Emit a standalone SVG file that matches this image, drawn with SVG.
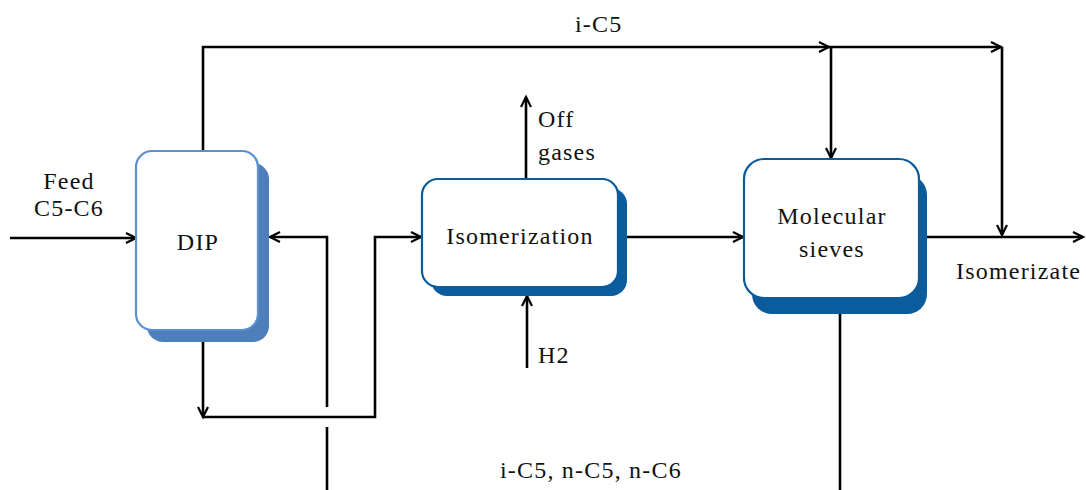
<svg xmlns="http://www.w3.org/2000/svg" width="1086" height="490" viewBox="0 0 1086 490">
  <style>
    .lbl { font-family: "Liberation Serif", "Times New Roman", serif; font-size: 24px; letter-spacing: 1.2px; fill: #111; }
    .mid { text-anchor: middle; }
    .flow { fill: none; stroke: #000; stroke-width: 2.6; stroke-linejoin: miter; }
    .arr { marker-end: url(#chev); }
    .front { fill: #fff; stroke-width: 2.2; }
  </style>
  <defs>
    <marker id="chev" markerUnits="userSpaceOnUse" markerWidth="14" markerHeight="14" refX="11" refY="6" orient="auto" viewBox="0 0 14 12">
      <path d="M1,1 L11,6 L1,11" fill="none" stroke="#000" stroke-width="2.2"/>
    </marker>
  </defs>
  <rect width="1086" height="490" fill="#fff"/>

  <!-- process streams -->
  <g id="connectors">
    <path class="flow arr" d="M10,238 H136"/>
    <path class="flow arr" d="M203,151 V47 H829"/>
    <path class="flow arr" d="M829,47 H1001"/>
    <path class="flow arr" d="M831,47 V158"/>
    <path class="flow arr" d="M1002,47 V235"/>
    <path class="flow arr" d="M203,342 V417"/>
    <path class="flow arr" d="M203,417 H375 V237 H421"/>
    <path class="flow" d="M327,490 V427"/>
    <path class="flow arr" d="M327,407 V237 H270"/>
    <path class="flow arr" d="M526,179 V97"/>
    <path class="flow arr" d="M527,368 V296"/>
    <path class="flow arr" d="M627,237 H743"/>
    <path class="flow arr" d="M927,237 H1083"/>
    <path class="flow" d="M840,314 V490"/>
  </g>

  <!-- stream labels -->
  <g id="labels">
    <text class="lbl mid" x="69" y="189">Feed</text>
    <text class="lbl mid" x="69" y="216">C5-C6</text>
    <text class="lbl" x="575" y="32">i-C5</text>
    <text class="lbl" x="538" y="127">Off</text>
    <text class="lbl" x="538" y="160">gases</text>
    <text class="lbl" x="538" y="363">H2</text>
    <text class="lbl" x="956" y="279">Isomerizate</text>
    <text class="lbl" x="500" y="478">i-C5, n-C5, n-C6</text>
  </g>

  <g id="dip">
    <rect x="147" y="163" width="122" height="179" rx="16" fill="#4f7fbb"/>
    <rect class="front" x="136" y="151" width="122" height="179" rx="16" stroke="#5b8fcf"/>
    <text class="lbl mid" x="198" y="250">DIP</text>
  </g>

  <g id="isomerization">
    <rect x="431" y="188" width="196" height="108" rx="16" fill="#0a5c9c"/>
    <rect class="front" x="422" y="179" width="196" height="108" rx="16" stroke="#0a5c9c"/>
    <text class="lbl mid" x="520" y="244">Isomerization</text>
  </g>

  <g id="molecular-sieves">
    <rect x="752" y="175" width="175" height="139" rx="20" fill="#0a5c9c"/>
    <rect class="front" x="744" y="159" width="175" height="139" rx="20" stroke="#0a5c9c"/>
    <text class="lbl mid" x="832" y="224">Molecular</text>
    <text class="lbl mid" x="832" y="257">sieves</text>
  </g>
</svg>
